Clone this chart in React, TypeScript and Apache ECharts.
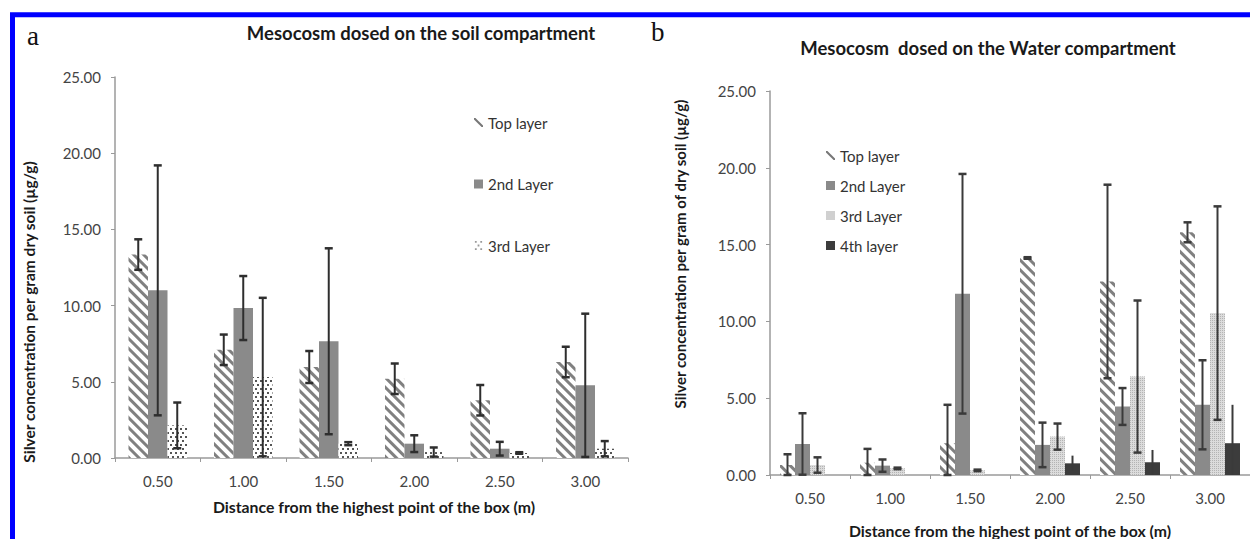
import React, { useEffect, useRef } from 'react';
import * as echarts from 'echarts';

const categories = ['0.50', '1.00', '1.50', '2.00', '2.50', '3.00'];
const yTicks = [0, 5, 10, 15, 20, 25];

// Panel a: mesocosm dosed on the soil compartment
const soilTop = [13.35, 7.1, 5.97, 5.2, 3.79, 6.3];
const soilTopErr = [1.0, 1.0, 1.05, 1.0, 1.0, 1.0];
const soil2nd = [11.0, 9.84, 7.66, 0.94, 0.61, 4.77];
const soil2ndErr = [8.2, 2.1, 6.1, 0.55, 0.45, 4.7];
const soil3rd = [2.14, 5.31, 0.94, 0.39, 0.33, 0.61];
const soil3rdErr = [1.5, 5.2, 0.1, 0.3, 0.05, 0.5];

// Panel b: mesocosm dosed on the water compartment
const waterTop = [0.65, 0.8, 2.07, 14.13, 12.6, 15.8];
const waterTopErr = [0.7, 0.9, 2.5, 0.05, 6.3, 0.65];
const water2nd = [2.02, 0.61, 11.8, 1.96, 4.46, 4.57];
const water2ndErr = [2.0, 0.4, 7.8, 1.45, 1.2, 2.9];
const water3rd = [0.65, 0.43, 0.3, 2.5, 6.41, 10.54];
const water3rdErr = [0.5, 0.05, 0.05, 0.85, 4.95, 6.95];
const water4th = [0, 0, 0, 0.76, 0.83, 2.07];
const water4thErr = [0, 0, 0, 0.5, 0.8, 2.5];

const soilNames = ['Top layer', '2nd Layer', '3rd Layer'];
const waterNames = ['Top layer', '2nd Layer', '3rd Layer', '4th layer'];

const titleA = 'Mesocosm dosed on the soil compartment';
const titleB = 'Mesocosm  dosed on the Water compartment';
const yTitle = 'Silver concentration per gram dry soil (µg/g)';
const yTitleB = 'Silver concentration per gram of dry soil (µg/g)';
const xTitle = 'Distance from the highest point of the box (m)';

const FONT = 'Lato, "Open Sans", sans-serif';

const stripeStyle = {
  color: '#ffffff',
  decal: {
    symbol: 'rect',
    symbolSize: 1,
    dashArrayX: [1, 0],
    dashArrayY: [2.2, 3.6],
    rotation: Math.PI / 4,
    color: '#808080',
  },
};
const grayStyle = { color: '#8a8a8a' };
const dotStyle = {
  color: '#ffffff',
  decal: {
    symbol: 'rect',
    symbolSize: 1,
    dashArrayX: [[1.2, 2.4], [0, 1.8, 1.2, 0.6]],
    dashArrayY: [1.2, 1.6],
    color: '#555',
  },
};
const meshStyle = {
  color: '#dcdcdc',
  decal: {
    symbol: 'rect',
    symbolSize: 1,
    dashArrayX: [1, 1],
    dashArrayY: [1, 1],
    color: '#b4b4b4',
  },
};
const darkStyle = { color: '#3c3c3c' };

function errData(vals: number[], errs: number[]) {
  return vals.map((v, i) => [i, Math.max(0, v - errs[i]), v + errs[i]]);
}

function errRender(offset: number, cap: number, color: string) {
  return (params: any, api: any) => {
    const idx = api.value(0);
    const lo = api.coord([idx, api.value(1)]);
    const hi = api.coord([idx, api.value(2)]);
    const x = lo[0] + offset;
    const style = { stroke: color, lineWidth: 2 };
    const children: any[] = [
      { type: 'line', shape: { x1: x, y1: hi[1], x2: x, y2: lo[1] }, style },
    ];
    if (cap > 0 && Math.abs(lo[1] - hi[1]) > 0.5) {
      children.push({ type: 'line', shape: { x1: x - cap, y1: hi[1], x2: x + cap, y2: hi[1] }, style: { stroke: color, lineWidth: 2.5 } });
      children.push({ type: 'line', shape: { x1: x - cap, y1: lo[1], x2: x + cap, y2: lo[1] }, style: { stroke: color, lineWidth: 2.5 } });
    }
    return { type: 'group', children };
  };
}

function axes(gridIndex: number) {
  const axisColor = '#9a9a9a';
  return {
    x: {
      type: 'category',
      gridIndex,
      data: categories,
      axisLine: { show: true, lineStyle: { color: axisColor, width: 1.5 } },
      axisTick: { show: true, length: 4, lineStyle: { color: axisColor } },
      axisLabel: { fontFamily: FONT, fontSize: 15, color: '#444', margin: 15 },
      splitLine: { show: false },
    },
    y: {
      type: 'value',
      gridIndex,
      min: yTicks[0],
      max: yTicks[yTicks.length - 1],
      interval: 5,
      axisLine: { show: true, lineStyle: { color: axisColor, width: 1.5 } },
      axisTick: { show: true, length: 4, lineStyle: { color: axisColor } },
      axisLabel: {
        fontFamily: FONT,
        fontSize: 15,
        color: '#444',
        margin: 14,
        formatter: (v: number) => v.toFixed(2),
      },
      splitLine: { show: false },
    },
  };
}

export default function App() {
  const ref = useRef<HTMLDivElement>(null);
  useEffect(() => {
    const chart = echarts.init(ref.current!, null, { renderer: 'svg' });
    const a = axes(0);
    const b = axes(1);
    const bwA = 19.5;
    const bwB = 15;
    const soilVals = [soilTop, soil2nd, soil3rd];
    const soilErrs = [soilTopErr, soil2ndErr, soil3rdErr];
    const soilStyles = [stripeStyle, grayStyle, dotStyle];
    const waterVals = [waterTop, water2nd, water3rd, water4th];
    const waterErrs = [waterTopErr, water2ndErr, water3rdErr, water4thErr];
    const waterStyles = [stripeStyle, grayStyle, meshStyle, darkStyle];

    const series: any[] = [];
    soilNames.forEach((name, i) => {
      series.push({
        type: 'bar',
        name,
        xAxisIndex: 0,
        yAxisIndex: 0,
        data: soilVals[i],
        barWidth: bwA,
        barGap: '0%',
        itemStyle: soilStyles[i],
        z: 2,
      });
    });
    soilNames.forEach((name, i) => {
      series.push({
        type: 'custom',
        name: name + ' error',
        xAxisIndex: 0,
        yAxisIndex: 0,
        data: errData(soilVals[i], soilErrs[i]),
        encode: { x: 0, y: [1, 2] },
        renderItem: errRender((i - 1) * bwA, 4, '#2e2e2e'),
        z: 5,
      });
    });
    waterNames.forEach((name, i) => {
      series.push({
        type: 'bar',
        name,
        xAxisIndex: 1,
        yAxisIndex: 1,
        data: waterVals[i],
        barWidth: bwB,
        barGap: '0%',
        itemStyle: waterStyles[i],
        z: 2,
      });
    });
    waterNames.forEach((name, i) => {
      series.push({
        type: 'custom',
        name: name + ' err',
        xAxisIndex: 1,
        yAxisIndex: 1,
        data: errData(waterVals[i], waterErrs[i]),
        encode: { x: 0, y: [1, 2] },
        renderItem: errRender((i - 1.5) * bwB, i === 3 ? 0 : 4, '#3a3a3a'),
        z: 5,
      });
    });

    const slashIcon = 'path://M0,0L1.6,0L10,8.4L10,10L8.4,10L0,1.6Z';
    const dotsIcon = 'path://M0,0h2v2h-2zM6,0h2v2h-2zM3,4h2v2h-2zM0,8h2v2h-2zM6,8h2v2h-2z';

    const legendText = { fontFamily: FONT, fontSize: 15, color: '#333' };

    const option: any = {
      animation: false,
      backgroundColor: '#ffffff',
      grid: [
        { left: 115, top: 77, width: 513, height: 381 },
        { left: 770, top: 91, width: 486, height: 384 },
      ],
      xAxis: [a.x, b.x],
      yAxis: [a.y, b.y],
      legend: [
        {
          orient: 'vertical',
          left: 469,
          top: 110,
          itemGap: 46.5,
          itemWidth: 9,
          itemHeight: 9,
          selectedMode: false,
          textStyle: legendText,
          data: [
            { name: 'Top layer', icon: slashIcon, itemStyle: { color: '#777', decal: 'none' } },
            { name: '2nd Layer', icon: 'rect', itemStyle: { color: '#8a8a8a', decal: 'none' } },
            { name: '3rd Layer', icon: dotsIcon, itemStyle: { color: '#999', decal: 'none' } },
          ],
        },
        {
          orient: 'vertical',
          left: 821,
          top: 143,
          itemGap: 15,
          itemWidth: 9,
          itemHeight: 9,
          selectedMode: false,
          textStyle: legendText,
          data: [
            { name: 'Top layer', icon: slashIcon, itemStyle: { color: '#777', decal: 'none' } },
            { name: '2nd Layer', icon: 'rect', itemStyle: { color: '#8a8a8a', decal: 'none' } },
            { name: '3rd Layer', icon: 'rect', itemStyle: { color: '#d0d0d0', decal: 'none' } },
            { name: '4th layer', icon: 'rect', itemStyle: { color: '#3c3c3c', decal: 'none' } },
          ],
        },
      ],
      graphic: [
        {
          type: 'rect',
          shape: { x: 12.5, y: 14.7, width: 1400, height: 700 },
          style: { fill: 'none', stroke: '#0000ff', lineWidth: 5 },
          z: 100,
        },
        {
          type: 'text',
          x: 27,
          y: 22,
          style: { text: 'a', font: '27px "Liberation Serif", serif', fill: '#111' },
        },
        {
          type: 'text',
          x: 651,
          y: 18,
          style: { text: 'b', font: '27px "Liberation Serif", serif', fill: '#111' },
        },
        {
          type: 'text',
          x: 421,
          y: 33,
          style: { text: titleA, font: `bold 18.5px ${FONT}`, fill: '#1a1a1a', textAlign: 'center', textVerticalAlign: 'middle' },
        },
        {
          type: 'text',
          x: 988,
          y: 48,
          style: { text: titleB, font: `bold 18.5px ${FONT}`, fill: '#1a1a1a', textAlign: 'center', textVerticalAlign: 'middle' },
        },
        {
          type: 'text',
          x: 29,
          y: 312,
          rotation: Math.PI / 2,
          style: { text: yTitle, font: `bold 15.5px ${FONT}`, fill: '#1a1a1a', textAlign: 'center', textVerticalAlign: 'middle' },
        },
        {
          type: 'text',
          x: 680,
          y: 254,
          rotation: Math.PI / 2,
          style: { text: yTitleB, font: `bold 15px ${FONT}`, fill: '#1a1a1a', textAlign: 'center', textVerticalAlign: 'middle' },
        },
        {
          type: 'text',
          x: 374,
          y: 506,
          style: { text: xTitle, font: `bold 15.8px ${FONT}`, fill: '#1a1a1a', textAlign: 'center', textVerticalAlign: 'middle' },
        },
        {
          type: 'text',
          x: 1010,
          y: 530,
          style: { text: xTitle, font: `bold 15.8px ${FONT}`, fill: '#1a1a1a', textAlign: 'center', textVerticalAlign: 'middle' },
        },
      ],
      series,
    };
    chart.setOption(option);
    return () => chart.dispose();
  }, []);
  return (
    <div
      ref={ref}
      style={{ position: 'absolute', left: 0, top: 0, width: 1250, height: 539, background: '#fff' }}
    />
  );
}
